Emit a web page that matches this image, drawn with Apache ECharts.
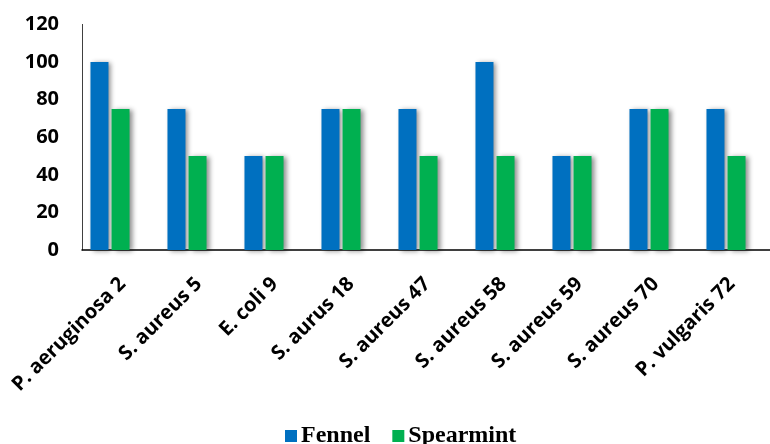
<!DOCTYPE html>
<html>
<head>
<meta charset="utf-8">
<script src="https://cdn.jsdelivr.net/npm/echarts@6/dist/echarts.min.js"></script>
<style>
  html, body { margin: 0; padding: 0; background: #ffffff; }
  #chart { width: 770px; height: 444px; }
</style>
</head>
<body>
<div id="chart"></div>
<script>
// Bacterial isolates tested
const categories = [
  'P. aeruginosa 2', 'S. aureus 5', 'E. coli 9', 'S. aurus 18', 'S. aureus 47',
  'S. aureus 58', 'S. aureus 59', 'S. aureus 70', 'P. vulgaris 72'
];
// Activity values per essential oil
const fennel    = [100, 75, 50, 75, 75, 100, 50, 75, 75];
const spearmint = [75, 50, 50, 75, 50, 50, 50, 75, 50];
// Value axis ticks
const yTicks = [0, 20, 40, 60, 80, 100, 120];

const yMin = yTicks[0];
const yMax = yTicks[yTicks.length - 1];
const yStep = yTicks[1] - yTicks[0];

const barShadow = {
  shadowColor: 'rgba(0,0,0,0.45)',
  shadowBlur: 5,
  shadowOffsetX: 3,
  shadowOffsetY: 1
};

const chart = echarts.init(document.getElementById('chart'), null, { renderer: 'canvas' });

chart.setOption({
  animation: false,
  backgroundColor: '#ffffff',
  grid: [
    // bars
    { left: 71.5, right: 5.5, top: 24.4, bottom: 194 },
    // visible axis frame
    { left: 82, right: 0, top: 24.4, bottom: 194 },
    // rotated category labels, hung slightly right of each group
    { left: 84.5, right: -7.5, top: 24.4, bottom: 194 }
  ],
  legend: {
    data: ['Fennel', 'Spearmint'],
    bottom: -4,
    left: 285,
    padding: 0,
    itemWidth: 12,
    itemHeight: 12,
    itemGap: 22,
    icon: 'rect',
    textStyle: {
      fontFamily: '"Liberation Serif", "Times New Roman", serif',
      fontWeight: 'bold',
      fontSize: 24,
      color: '#000000',
      padding: [0, 0, 0, -1]
    }
  },
  xAxis: [
    {
      type: 'category',
      gridIndex: 0,
      data: categories,
      show: false
    },
    {
      type: 'category',
      gridIndex: 1,
      data: categories,
      axisLine: { show: true, lineStyle: { color: '#000000', width: 1.5 } },
      axisTick: { show: false },
      axisLabel: { show: false }
    },
    {
      type: 'category',
      gridIndex: 2,
      data: categories,
      axisLine: { show: false },
      axisTick: { show: false },
      axisLabel: {
        interval: 0,
        rotate: 45,
        margin: 31,
        fontFamily: '"Open Sans", sans-serif',
        fontWeight: 'bold',
        fontSize: 20,
        color: '#000000'
      }
    }
  ],
  yAxis: [
    {
      type: 'value',
      gridIndex: 0,
      min: yMin,
      max: yMax,
      interval: yStep,
      show: false,
      splitLine: { show: false }
    },
    {
      type: 'value',
      gridIndex: 1,
      min: yMin,
      max: yMax,
      interval: yStep,
      axisLine: { show: true, lineStyle: { color: '#404040', width: 1 } },
      axisTick: { show: false },
      splitLine: { show: false },
      axisLabel: {
        margin: 23,
        fontFamily: '"Open Sans", sans-serif',
        fontWeight: 'bold',
        fontSize: 20,
        color: '#000000'
      }
    },
    {
      type: 'value',
      gridIndex: 2,
      min: yMin,
      max: yMax,
      interval: yStep,
      show: false,
      splitLine: { show: false }
    }
  ],
  series: [
    {
      name: 'Fennel',
      type: 'bar',
      xAxisIndex: 0,
      yAxisIndex: 0,
      data: fennel,
      barWidth: 18,
      barGap: '17%',
      itemStyle: Object.assign({ color: '#0070C0' }, barShadow)
    },
    {
      name: 'Spearmint',
      type: 'bar',
      xAxisIndex: 0,
      yAxisIndex: 0,
      data: spearmint,
      barWidth: 18,
      barGap: '17%',
      itemStyle: Object.assign({ color: '#00B050' }, barShadow)
    }
  ]
});
</script>
</body>
</html>
